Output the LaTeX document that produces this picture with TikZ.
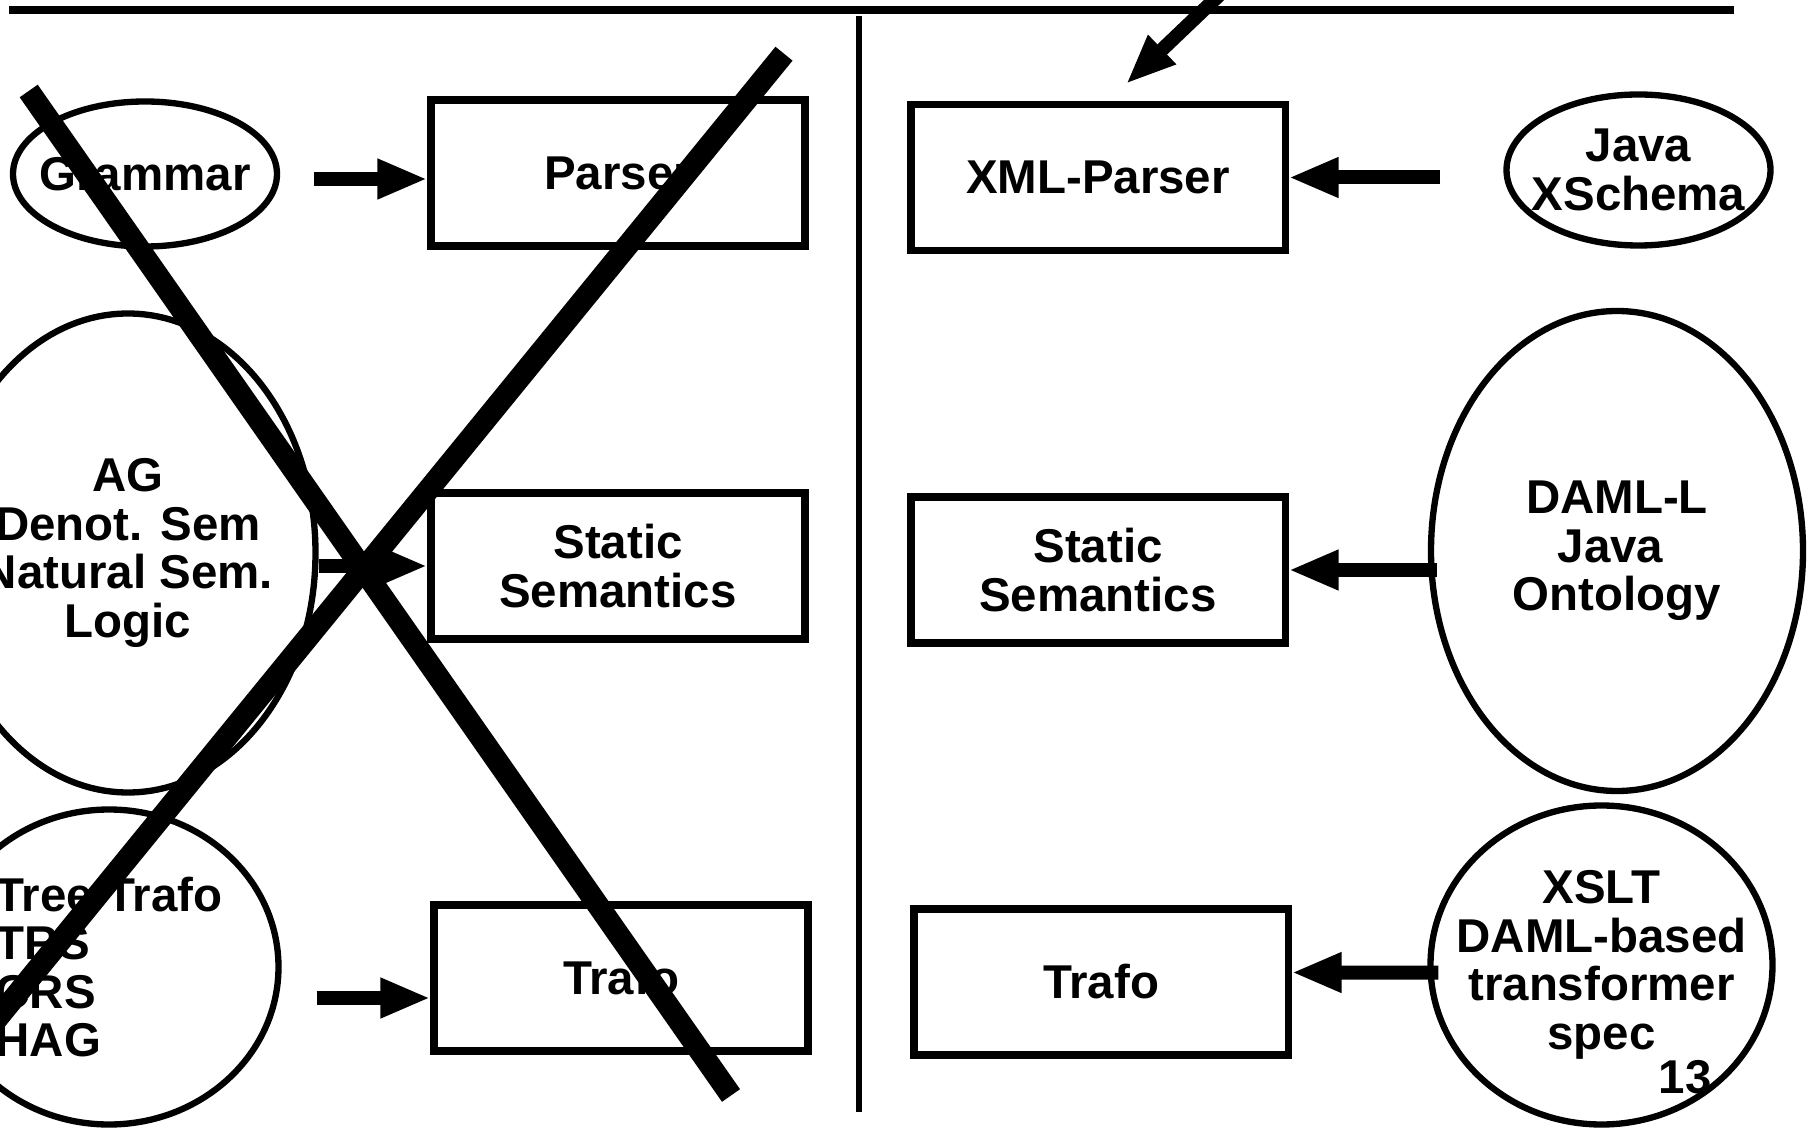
\documentclass[tikz,border=0pt]{standalone}
\usepackage{fontspec}
\setmainfont{Liberation Sans}
\usetikzlibrary{arrows.meta,shapes.geometric}

\begin{document}
\begin{tikzpicture}[
  phase/.style={draw,line width=2pt,minimum width=3.74cm,minimum height=1.46cm,inner sep=0pt},
  source/.style={draw,ellipse,line width=1.8pt,inner sep=-1cm},
  flow/.style={line width=0.14cm,-{Triangle[length=0.5cm,width=0.37cm]}},
  strike/.style={line width=0.22cm},
  every node/.style={font=\bfseries\fontsize{13.5pt}{13.8pt}\selectfont,align=center}
]
\useasboundingbox (0,0) rectangle (18.07,11.31);
\clip (0,0) rectangle (18.07,11.31);
\draw[line width=2.4pt] (0.09,11.21) -- (17.34,11.21);
\draw[line width=1.9pt] (8.59,11.15) -- (8.59,0.19);
% left half
\node[source,minimum width=2.64cm,minimum height=1.45cm] (gram) at (1.45,9.57) {Grammar};
\node[source,minimum width=3.75cm,minimum height=4.79cm] (ag) at (1.28,5.78) {AG\\Denot. Sem\\Natural Sem.\\Logic};
\node[source,minimum width=3.39cm,minimum height=3.15cm,align=left] (tree) at (1.09,1.64) {Tree Trafo\\TRS\\CRS\\HAG};
\node[phase] (parser) at (6.18,9.58) {Parser};
\node[phase] (statL) at (6.18,5.65) {Static\\Semantics};
\node[phase] (trafoL) at (6.21,1.53) {Trafo};
\draw[flow] ([xshift=0.34cm,yshift=-0.05cm]gram.east) -- ([yshift=-0.06cm]parser.west);
\draw[flow] (ag.east |- statL.west) -- (statL.west);
\draw[flow] ([xshift=0.35cm,yshift=-0.31cm]tree.east) -- ([yshift=-0.2cm]trafoL.west);
% right half
\node[phase] (xmlp) at (10.98,9.535) {XML-Parser};
\node[phase] (statR) at (10.98,5.61) {Static\\Semantics};
\node[phase] (trafoR) at (11.01,1.49) {Trafo};
\node[source,minimum width=2.64cm,minimum height=1.51cm] (jav) at (16.385,9.61) {Java\\XSchema};
\node[source,minimum width=3.72cm,minimum height=4.80cm] (daml) at (16.17,5.80) {DAML-L\\\mbox{Java }\\Ontology};
\node[source,minimum width=3.42cm,minimum height=3.19cm] (xslt) at (16.015,1.66) {XSLT\\DAML-based\\transformer\\spec};
\draw[flow] ([xshift=-0.63cm,yshift=-0.075cm]jav.west) -- (xmlp.east);
\draw[flow] ([xshift=0.09cm,yshift=-0.19cm]daml.west) -- (statR.east);
\draw[flow] ([xshift=0.11cm,yshift=-0.075cm]xslt.west) -- ([yshift=0.095cm]trafoR.east);
\coordinate (feedtop) at (12.56,11.71);
\draw[flow] (feedtop) -- ([xshift=0.28cm,yshift=0.17cm]xmlp.north);
\node (page) at (16.85,0.535) {13};
% crossed out
\draw[strike] (0.287,10.40) -- (7.31,0.355);
\draw[strike] (7.84,10.773) -- (-0.5,0.546);
\end{tikzpicture}
\end{document}
